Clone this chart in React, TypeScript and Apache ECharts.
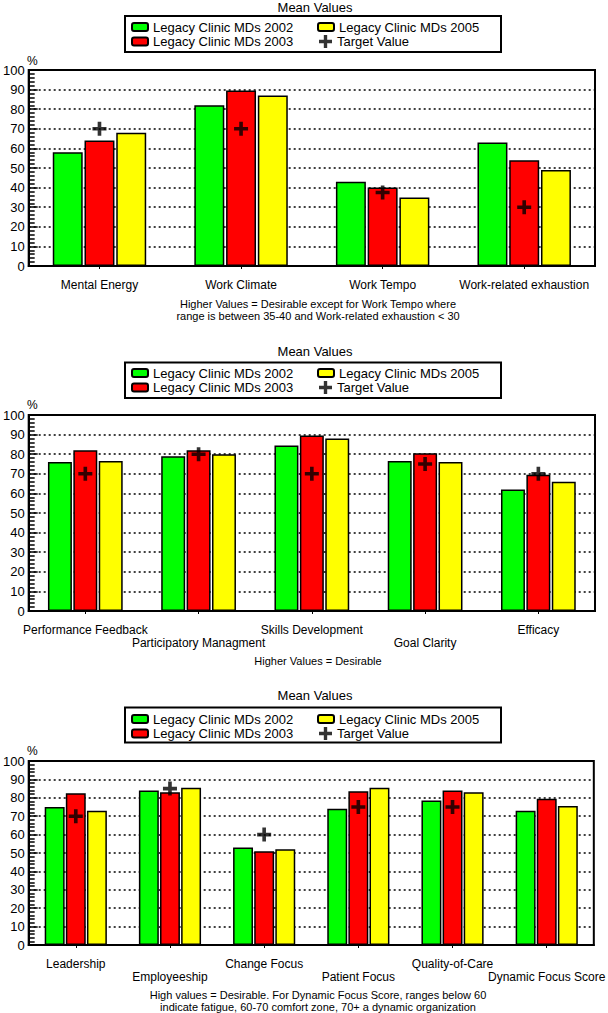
import React, { useEffect, useRef } from "react";
import * as echarts from "echarts";

const seriesNames = ["Legacy Clinic MDs 2002", "Legacy Clinic MDs 2003", "Legacy Clinic MDs 2005"];
const targetName = "Target Value";
const seriesColors = ["#00ff00", "#ff0000", "#ffff00"];

const categories1 = ["Mental Energy", "Work Climate", "Work Tempo", "Work-related exhaustion"];
const md2002_1 = [58, 82, 43, 63];
const md2003_1 = [64, 89.5, 40, 54];
const md2005_1 = [68, 87, 35, 49];
const target1 = [70, 70, 37.5, 30];

const categories2 = ["Performance Feedback", "Participatory Managment", "Skills Development", "Goal Clarity", "Efficacy"];
const md2002_2 = [76, 79, 84.5, 76.5, 62];
const md2003_2 = [82, 82, 89.5, 80.5, 69.5];
const md2005_2 = [76.5, 80, 88, 76, 66];
const target2 = [70, 80, 70, 75, 70];

const categories3 = ["Leadership", "Employeeship", "Change Focus", "Patient Focus", "Quality-of-Care", "Dynamic Focus Score"];
const md2002_3 = [75, 84, 53, 74, 78.5, 73];
const md2003_3 = [82.5, 83, 51, 83.5, 84, 79.5];
const md2005_3 = [73, 85.5, 52, 85.5, 83, 75.5];
const target3 = [70, 85, 60, 75, 75, null];

const titleText = "Mean Values";
const unitText = "%";
const notes1 = ["Higher Values = Desirable except for Work Tempo where", "range is between 35-40 and Work-related exhaustion < 30"];
const notes2 = ["Higher Values = Desirable"];
const notes3 = ["High values = Desirable. For Dynamic Focus Score, ranges below 60", "indicate fatigue, 60-70 comfort zone, 70+ a dynamic organization"];

const FONT = "'Liberation Sans', Arial, Helvetica, sans-serif";
const CROSS = "path://M5,0h3.5v5h5v3.5h-5v5h-3.5v-5h-5v-3.5h5z";

const panels = [
  { cats: categories1, vals: [md2002_1, md2003_1, md2005_1], target: target1, notes: notes1, stagger: false,
    titleY: 7, boxY: 16, boxH: 36, legendTop: 20, unitY: 61, gridTop: 70, gridH: 196, labelMargin: 12, noteY: 304 },
  { cats: categories2, vals: [md2002_2, md2003_2, md2005_2], target: target2, notes: notes2, stagger: true,
    titleY: 351, boxY: 362.5, boxH: 35.5, legendTop: 366, unitY: 405, gridTop: 415, gridH: 196, labelMargin: 12, noteY: 661 },
  { cats: categories3, vals: [md2002_3, md2003_3, md2005_3], target: target3, notes: notes3, stagger: true,
    titleY: 695, boxY: 707.5, boxH: 35, legendTop: 712, unitY: 751, gridTop: 761, gridH: 184, labelMargin: 12.5, noteY: 995 },
];

function buildOption() {
  const grid: any[] = [];
  const xAxis: any[] = [];
  const yAxis: any[] = [];
  const series: any[] = [];
  const legend: any[] = [];
  const graphic: any[] = [];

  panels.forEach((p, i) => {
    grid.push({
      left: 25, right: 13, top: p.gridTop, height: p.gridH,
      show: true, borderColor: "#000", borderWidth: 2, backgroundColor: "transparent",
    });
    xAxis.push({
      gridIndex: i, type: "category", data: p.cats,
      axisLine: { lineStyle: { color: "#000", width: 2 } },
      axisTick: { show: true, alignWithLabel: true, length: 3, lineStyle: { color: "#000", width: 1 } },
      axisLabel: {
        interval: 0, color: "#000", fontSize: 12, fontFamily: FONT, margin: p.labelMargin, lineHeight: 13,
        formatter: (v: string, idx: number) => (p.stagger && idx % 2 === 1 ? "\n" + v : v),
      },
      splitLine: { show: false },
    });
    yAxis.push({
      gridIndex: i, type: "value", min: 0, max: 100, interval: 10,
      axisLine: { show: true, lineStyle: { color: "#000", width: 2 } },
      axisTick: { show: true, inside: true, length: 9, lineStyle: { color: "#000", width: 1.5 } },
      minorTick: { show: true, splitNumber: 5, length: 6, lineStyle: { color: "#000", width: 1.5 } },
      axisLabel: { color: "#000", fontSize: 13, fontFamily: FONT, margin: 4 },
      splitLine: { show: true, lineStyle: { color: "#000", type: [2, 3], width: 1.5 } },
    });
    p.vals.forEach((arr, k) => {
      series.push({
        type: "bar", name: seriesNames[k], xAxisIndex: i, yAxisIndex: i, data: arr,
        barGap: "6%", barCategoryGap: "34%",
        itemStyle: { color: seriesColors[k], borderColor: "#000", borderWidth: 1.5 },
      });
    });
    series.push({
      type: "scatter", name: targetName, xAxisIndex: i, yAxisIndex: i, data: p.target,
      symbol: CROSS, symbolSize: [14, 14], z: 5,
      itemStyle: { color: "#000" },
    });

    const lt = { color: "#000", fontSize: 13, fontFamily: FONT, lineHeight: 14 };
    legend.push({
      data: [seriesNames[0], seriesNames[1]], orient: "vertical", left: 131, top: p.legendTop,
      itemWidth: 16, itemHeight: 8, itemGap: 0.5, padding: 0, selectedMode: false, textStyle: lt,
    });
    legend.push({
      data: [seriesNames[2]], orient: "vertical", left: 317, top: p.legendTop,
      itemWidth: 16, itemHeight: 8, itemGap: 0.5, padding: 0, selectedMode: false, textStyle: lt,
    });
    legend.push({
      data: [targetName], orient: "vertical", left: 319, top: p.legendTop + 14.5,
      itemWidth: 13, itemHeight: 13, itemGap: 0.5, padding: 0, selectedMode: false, textStyle: lt,
    });

    graphic.push({
      type: "rect", shape: { x: 125, y: p.boxY, width: 376, height: p.boxH },
      style: { fill: "#fff", stroke: "#000", lineWidth: 2 }, z: -1,
    });
    graphic.push({
      type: "text", x: 315, y: p.titleY,
      style: { text: titleText, fontSize: 13, fontFamily: FONT, fill: "#000", textAlign: "center", textVerticalAlign: "middle" },
    });
    graphic.push({
      type: "text", x: 27, y: p.unitY,
      style: { text: unitText, fontSize: 12, fontFamily: FONT, fill: "#000", textAlign: "left", textVerticalAlign: "middle" },
    });
    p.notes.forEach((n, j) => {
      graphic.push({
        type: "text", x: 318, y: p.noteY + j * 12,
        style: { text: n, fontSize: 11, fontFamily: FONT, fill: "#000", textAlign: "center", textVerticalAlign: "middle" },
      });
    });
  });

  return {
    animation: false,
    backgroundColor: "#fff",
    textStyle: { fontFamily: FONT },
    grid, xAxis, yAxis, series, legend, graphic,
  };
}

export default function App() {
  const ref = useRef<HTMLDivElement>(null);
  useEffect(() => {
    if (!ref.current) return;
    const chart = echarts.init(ref.current, undefined, { renderer: "svg" });
    chart.setOption(buildOption() as any);
    return () => chart.dispose();
  }, []);
  return (
    <div
      ref={ref}
      style={{ position: "fixed", left: 0, top: 0, width: 608, height: 1013, background: "#fff" }}
    />
  );
}
